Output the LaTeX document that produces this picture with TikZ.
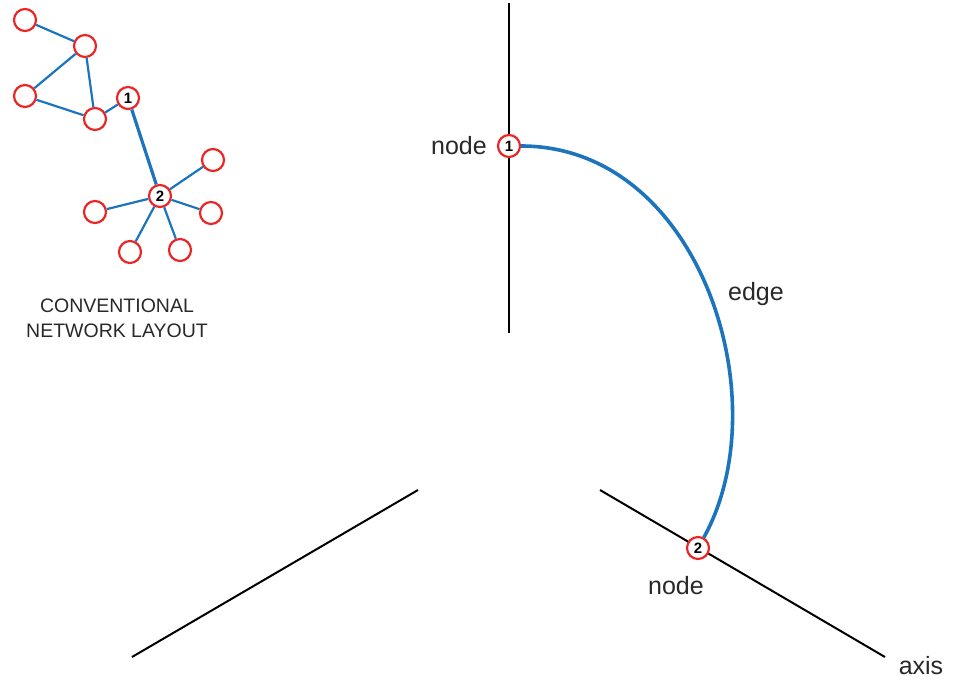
\documentclass[tikz,border=0pt]{standalone}
\usepackage{fontspec}
\setmainfont{Liberation Sans}
\definecolor{nred}{RGB}{232,40,40}
\definecolor{eblue}{RGB}{28,117,188}
\definecolor{txt}{RGB}{40,40,40}
\begin{document}
\begin{tikzpicture}[x=1pt,y=-1pt,
  vtx/.style={circle,draw=nred,line width=2.2pt,fill=white,minimum size=22pt,inner sep=0pt,font=\fontsize{15}{15}\selectfont\bfseries},
  lnk/.style={draw=eblue,line width=2.2pt},
  thicklnk/.style={draw=eblue,line width=3.2pt},
  bigedge/.style={draw=eblue,line width=3.6pt},
  axisline/.style={line width=2pt,black},
  lbl/.style={font=\fontsize{25}{28}\selectfont,text=txt,inner sep=0pt}
]
\useasboundingbox (0,0) rectangle (959,680);

% axes
\coordinate (vt) at (509,3);
\coordinate (vb) at (509,333);
\coordinate (lt) at (418,490);
\coordinate (lb) at (132,657);
\coordinate (rt) at (600,490);
\coordinate (rb) at (885,657);
\draw[axisline] (vt) -- (vb);
\draw[axisline] (lt) -- (lb);
\draw[axisline] (rt) -- (rb);

% small network
\node[vtx] (a) at (25,20) {};
\node[vtx] (b) at (85,46) {};
\node[vtx] (c) at (25,96) {};
\node[vtx] (d) at (95,119) {};
\node[vtx] (s1) at (128,98) {1};
\node[vtx] (s2) at (160,196) {2};
\node[vtx] (e) at (213,160) {};
\node[vtx] (f) at (95,212) {};
\node[vtx] (g) at (211,213) {};
\node[vtx] (h) at (130,252) {};
\node[vtx] (i) at (180,250) {};
\draw[lnk] (a) -- (b);
\draw[lnk] (b) -- (c);
\draw[lnk] (b) -- (d);
\draw[lnk] (c) -- (d);
\draw[lnk] (d) -- (s1);
\draw[thicklnk] (s1) -- (s2);
\draw[lnk] (s2) -- (e);
\draw[lnk] (s2) -- (f);
\draw[lnk] (s2) -- (g);
\draw[lnk] (s2) -- (h);
\draw[lnk] (s2) -- (i);

\node[align=center,font=\fontsize{19.5}{25}\selectfont,text=txt] (cap) at (117,318) {CONVENTIONAL\\NETWORK LAYOUT};

% hive plot nodes
\node[vtx] (n1) at (509,146) {1};
\node[vtx] (n2) at (698,548) {2};
\draw[bigedge] (n1) .. controls (700,146) and (780,400) .. (n2);

\node[lbl] (l1) at (459,146) {node};
\node[lbl] (l2) at (676,586) {node};
\node[lbl] (le) at (756,294) {edge};
\node[lbl] (la) at (921,666) {axis};
\end{tikzpicture}
\end{document}
